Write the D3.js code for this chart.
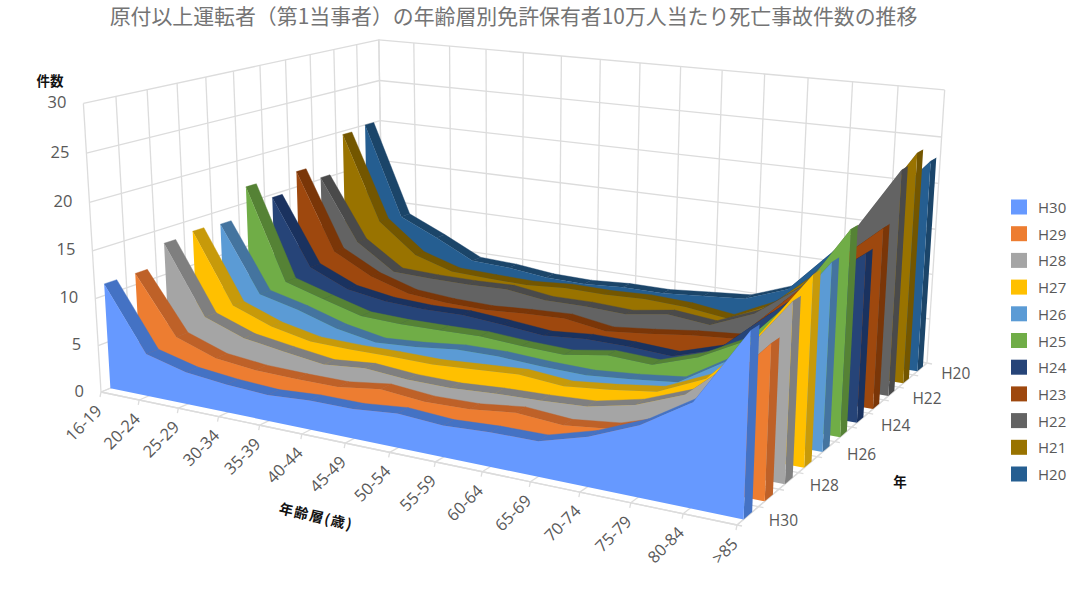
<!DOCTYPE html>
<html><head><meta charset="utf-8"><script src="https://cdn.jsdelivr.net/npm/d3@7"></script>
<style>html,body{margin:0;background:#fff}svg{display:block}</style></head><body><svg id="c" width="1080" height="594"></svg>
<script>
const categories=["16-19","20-24","25-29","30-34","35-39","40-44","45-49","50-54","55-59","60-64","65-69","70-74","75-79","80-84",">85"];
const seriesNames=["H30","H29","H28","H27","H26","H25","H24","H23","H22","H21","H20"];
const H30=[11.2,4.5,3.4,2.95,2.7,3.0,3.0,3.45,3.15,3.4,3.45,4.8,6.8,9.8,17];
const H29=[11.2,5.05,3.55,3.1,3.0,3.0,3.6,3.2,3.3,3.85,3.5,4.05,5.6,9.3,14.6];
const H28=[13.4,6.0,4.45,3.8,3.2,3.6,3.25,3.2,3.5,3.65,3.9,4.95,6.8,11,17.2];
const H27=[13.7,6.1,4.5,3.6,3.5,3.55,3.5,3.8,4.1,3.7,4.2,4.85,7,12,18.5];
const H26=[13.5,6.2,5.15,3.8,3.0,3.3,3.8,3.85,3.6,3.5,3.9,4.45,7.4,12.2,18.6];
const H25=[16.8,6.5,5.2,4.0,3.85,3.9,4.0,3.7,3.55,4.3,4.1,5.7,8.2,13.4,20.7];
const H24=[14.65,7.1,5.2,4.5,4.3,4.4,4.05,3.6,4.0,3.95,3.7,5.2,9.4,13.5,17.3];
const H23=[16.8,7.9,5.6,4.25,3.9,3.8,4.1,4.3,3.6,4.1,4.7,5.1,9.8,14.5,18.8];
const H22=[15.2,8,5.05,4.9,4.9,5.05,4.45,4.5,4.3,5.05,4.6,6.6,10.2,16.3,23.8];
const H21=[19.6,9.5,6,4.65,4.5,4.4,4.75,4.7,4.9,4.7,4.1,6.4,10.7,17.3,24.7];
const H20=[20,9.1,7.1,4.9,4.7,4.2,4.1,4.4,4.4,4.8,5.2,7,12,17.5,23];
const seriesValues=[H30,H29,H28,H27,H26,H25,H24,H23,H22,H21,H20];
const frontColors=["#6699FF","#ED7D31","#A5A5A5","#FFC000","#5B9BD5","#70AD47","#264478","#9E480E","#636363","#997300","#255E91"];
const sideColors=["#4472C4","#BE6128","#7F7F7F","#C79A0A","#44749F","#558235","#1A325F","#7A3608","#4A4A4A","#735600","#1B4569"];
const valueTicks=[0,5,10,15,20,25,30];
const seriesLabels=["H30","H28","H26","H24","H22","H20"];

function homography(p00,p10,p11,p01){
  const [x0,y0]=p00,[x1,y1]=p10,[x2,y2]=p11,[x3,y3]=p01;
  const dx1=x1-x2,dx2=x3-x2,dx3=x0-x1+x2-x3,dy1=y1-y2,dy2=y3-y2,dy3=y0-y1+y2-y3;
  const den=dx1*dy2-dx2*dy1;
  const g=(dx3*dy2-dx2*dy3)/den,h=(dx1*dy3-dx3*dy1)/den;
  const a=x1-x0+g*x1,b=x3-x0+h*x3,d=y1-y0+g*y1,e=y3-y0+h*y3;
  return (u,w)=>[a*u+b*w+x0,d*u+e*w+y0,g*u+h*w+1];
}
const floorH=homography([101,392],[737,525],[927,363],[383,277]);
const tops=[[0,0,84,102],[0,1,378,40],[1,1,945,91]];
function solve3(A,b){
  const M=A.map((r,i)=>r.concat(b[i]));
  for(let i=0;i<3;i++){let p=i;for(let r=i+1;r<3;r++)if(Math.abs(M[r][i])>Math.abs(M[p][i]))p=r;[M[i],M[p]]=[M[p],M[i]];
    for(let r=0;r<3;r++)if(r!==i){const f=M[r][i]/M[i][i];for(let c=i;c<4;c++)M[r][c]-=f*M[i][c];}}
  return M.map((r,i)=>r[3]/r[i]);
}
const rows=[],rhs=[];
tops.forEach(([u,w,X,Y])=>{const F=floorH(u,w);rows.push([1,0,-X]);rhs.push(X*F[2]-F[0]);rows.push([0,1,-Y]);rhs.push(Y*F[2]-F[1]);});
const ATA=[0,1,2].map(i=>[0,1,2].map(j=>d3.sum(rows,r=>r[i]*r[j])));
const ATb=[0,1,2].map(i=>d3.sum(rows,(r,k)=>r[i]*rhs[k]));
const V=solve3(ATA,ATb);
const uScale=d3.scalePoint().domain(categories).range([0,1]);
const wScale=d3.scaleBand().domain(seriesNames).range([0,1]);
const vScale=d3.scaleLinear().domain([0,30]).range([0,1]);
function P(u,w,val){const F=floorH(u,w),k=vScale(val),q=F[2]+k*V[2];return [(F[0]+k*V[0])/q,(F[1]+k*V[1])/q];}
const svg=d3.select("#c");
const line=d3.line();
const gridC="#dcdcdc";
const grid=svg.append("g").attr("fill","none").attr("stroke",gridC).attr("stroke-width",1.3);
const seg=(a,b)=>grid.append("path").attr("d",line([a,b]));
valueTicks.forEach(v=>{seg(P(0,0,v),P(0,1,v));seg(P(0,1,v),P(1,1,v));});
categories.forEach(c=>{const u=uScale(c);seg(P(u,1,0),P(u,1,30));seg(P(u,0,0),P(u,1,0));});
const wEdges=seriesNames.map(s=>wScale(s)).concat([1]);
wEdges.forEach(w=>{seg(P(0,w,0),P(0,w,30));seg(P(0,w,0),P(1,w,0));});
seg(P(0,0,0),P(1,0,0));seg(P(1,0,0),P(1,1,0));
categories.forEach(c=>{const u=uScale(c);const a=P(u,0,0);seg(a,[a[0]-1,a[1]+5]);});
wEdges.forEach(w=>{const a=P(1,w,0);seg(a,[a[0]+5,a[1]+1]);});
const bw=wScale.bandwidth();
const order=d3.range(seriesNames.length).reverse();
const marks=svg.append("g");
order.forEach(i=>{
  const name=seriesNames[i],vals=seriesValues[i];
  const w0=wScale(name)+0.3*bw,w1=wScale(name)+0.7*bw;
  const g=marks.append("g").attr("data-series",name);
  const pts=categories.map((c,k)=>({u:uScale(c),v:vals[k]}));
  d3.pairs(pts).forEach(([a,b])=>{
    g.append("path").attr("fill",sideColors[i]).attr("stroke",sideColors[i]).attr("stroke-width",.4)
     .attr("d",line([P(a.u,w0,a.v),P(b.u,w0,b.v),P(b.u,w1,b.v),P(a.u,w1,a.v)])+"Z");
  });
  const e=pts[pts.length-1];
  g.append("path").attr("fill",sideColors[i]).attr("d",line([P(1,w0,0),P(1,w1,0),P(1,w1,e.v),P(1,w0,e.v)])+"Z");
  g.append("path").attr("fill",frontColors[i])
   .attr("d",line([P(0,w0,0)].concat(pts.map(p=>P(p.u,w0,p.v)),[P(1,w0,0)]))+"Z");
});
const sans='"Open Sans",sans-serif',cjk='"Noto Sans CJK JP",sans-serif';
svg.append("text").attr("x",513.5).attr("y",24).attr("text-anchor","middle").attr("font-family",cjk).attr("font-size",20.9).attr("fill","#747474").text("原付以上運転者（第1当事者）の年齢層別免許保有者10万人当たり死亡事故件数の推移");
svg.append("text").attr("x",50).attr("y",86).attr("text-anchor","middle").attr("font-family",cjk).attr("font-weight",700).attr("font-size",13.5).attr("fill","#111").text("件数");
valueTicks.forEach(v=>{const p=P(0,0,v);svg.append("text").attr("x",p[0]-17).attr("y",p[1]+5+v/30-(v>0?1:0)).attr("text-anchor","end").attr("font-family",sans).attr("font-size",16.5).attr("fill","#595959").text(v);});
categories.forEach(c=>{const p=P(uScale(c),0,0);svg.append("text").attr("transform",`translate(${p[0]+2},${p[1]+20}) rotate(-45)`).attr("text-anchor","end").attr("font-family",sans).attr("font-size",16.5).attr("fill","#595959").text(c);});
seriesLabels.forEach(s=>{const p=P(1,wScale(s)+bw/2,0);svg.append("text").attr("x",p[0]+21).attr("y",p[1]+10.5).attr("font-family",sans).attr("font-size",15.5).attr("fill","#595959").text(s);});
svg.append("text").attr("x",900).attr("y",487).attr("text-anchor","middle").attr("font-family",cjk).attr("font-weight",700).attr("font-size",13.5).attr("fill","#111").text("年");
svg.append("text").attr("transform","translate(315,521.5) rotate(13)").attr("text-anchor","middle").attr("font-family",cjk).attr("font-weight",700).attr("font-size",14).attr("letter-spacing",1.5).attr("fill","#111").text("年齢層(歳)");
const ly=d3.scalePoint().domain(seriesNames).range([207,474]);
seriesNames.forEach((s,i)=>{svg.append("rect").attr("x",1011).attr("y",ly(s)-7.5).attr("width",16).attr("height",15).attr("fill",frontColors[i]);
 svg.append("text").attr("x",1038).attr("y",ly(s)+6).attr("font-family",sans).attr("font-size",15).attr("fill","#595959").text(s);});
</script></body></html>
